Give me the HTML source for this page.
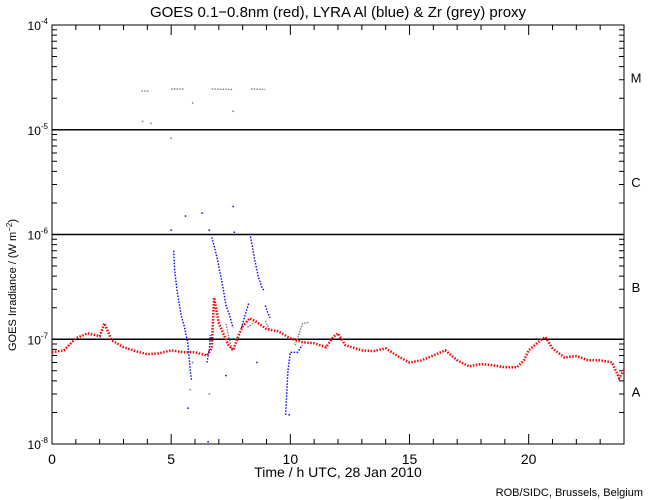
<!DOCTYPE html>
<html><head><meta charset="utf-8"><style>
body{margin:0;background:#fff}
svg{display:block;font-family:"Liberation Sans",sans-serif}
</style></head><body>
<svg id="chart" width="650" height="500" viewBox="0 0 650 500" xmlns="http://www.w3.org/2000/svg">
<rect width="650" height="500" fill="#fff"/>
<text x="338" y="17" font-size="15" text-anchor="middle">GOES 0.1−0.8nm (red), LYRA Al (blue) &amp; Zr (grey) proxy</text>
<g id="axes"></g>
<g id="marks"></g>
<text x="338" y="477" font-size="14" text-anchor="middle">Time / h UTC, 28 Jan 2010</text>
<text transform="translate(16,285) rotate(-90)" font-size="11" text-anchor="middle">GOES Irradiance / (W m<tspan dy="-4" font-size="8">−2</tspan><tspan dy="4">)</tspan></text>
<text x="643" y="496" font-size="11" text-anchor="end">ROB/SIDC, Brussels, Belgium</text>
</svg>
<script>
const xTicks=[0,5,10,15,20];
const yDecades=[-8,-7,-6,-5,-4];
const classNames=['A','B','C','M'];
const classExp=[-7.5,-6.5,-5.5,-4.5];
const redT=[0,0.5,1,1.5,2,2.2,2.5,3,3.5,4,4.5,5,5.5,6,6.5,6.7,6.8,7,7.4,7.6,7.8,8,8.3,8.6,9,9.5,10,10.5,11,11.5,11.8,12,12.3,13,13.5,14,14.5,15,15.5,16,16.5,17,17.5,18,18.5,19,19.5,19.8,20,20.5,20.7,21,21.5,22,22.5,23,23.5,23.8,24];
const redV=[7.5e-8,7.85e-8,1.02e-7,1.14e-7,1.07e-7,1.42e-7,9.8e-8,8.4e-8,7.7e-8,7.2e-8,7.35e-8,7.85e-8,7.5e-8,7.5e-8,7.0e-8,8.2e-8,2.5e-7,1.42e-7,8.8e-8,7.85e-8,1.05e-7,1.33e-7,1.59e-7,1.45e-7,1.25e-7,1.19e-7,1.02e-7,9.4e-8,9.15e-8,8.4e-8,1.05e-7,1.14e-7,8.8e-8,7.85e-8,7.7e-8,8.2e-8,6.9e-8,6.0e-8,6.3e-8,7.0e-8,7.85e-8,6.3e-8,5.5e-8,5.8e-8,5.65e-8,5.4e-8,5.4e-8,6.3e-8,7.85e-8,9.8e-8,1.05e-7,8.2e-8,6.7e-8,6.9e-8,6.3e-8,6.3e-8,6.0e-8,4.25e-8,5.1e-8];
const blueT=[5.1,5.15,5.25,5.35,5.42,5.48,5.55,5.7,5.8,5.85,NaN,6.5,6.6,6.65,NaN,6.7,6.8,6.95,7.1,7.2,7.3,7.45,7.6,NaN,7.95,8.1,8.25,NaN,8.3,8.4,8.5,8.65,8.8,8.9,NaN,8.95,9.05,9.15,NaN,9.8,9.9,10,10.3,10.5];
const blueV=[7.0e-7,4.5e-7,2.9e-7,2.1e-7,1.69e-7,1.51e-7,1.33e-7,9.0e-8,5.1e-8,4.1e-8,NaN,6.0e-8,8e-8,1.1e-7,NaN,9.4e-7,7.85e-7,5.65e-7,3.8e-7,2.9e-7,2.1e-7,1.69e-7,1.28e-7,NaN,1.28e-7,1.69e-7,2.2e-7,NaN,1.02e-6,7.85e-7,5.8e-7,4.0e-7,3.16e-7,2.9e-7,NaN,2.1e-7,1.8e-7,1.6e-7,NaN,1.9e-8,5.1e-8,7.5e-8,7.5e-8,8.8e-8];
const greyT=[3.75,4.1,NaN,5.0,5.55,NaN,6.7,7.6,NaN,8.35,8.95,NaN,7.3,7.42,7.55,NaN,8.2,8.5,NaN,8.95,9.15,NaN,10.2,10.5,10.75];
const greyV=[2.34e-5,2.34e-5,NaN,2.45e-5,2.45e-5,NaN,2.45e-5,2.42e-5,NaN,2.45e-5,2.43e-5,NaN,1.4e-7,1.05e-7,8e-8,NaN,1.3e-7,1.45e-7,NaN,1.5e-7,1.2e-7,NaN,8.8e-8,1.4e-7,1.45e-7];
const blueDotT=[5.0,5.6,6.3,6.6,7.6,7.65,5.7,6.55,9.95,7.3,8.6];
const blueDotV=[1.1e-6,1.5e-6,1.6e-6,1.1e-6,1.85e-6,1.05e-6,2.2e-8,1.05e-8,1.9e-8,4.5e-8,6e-8];
const greyDotT=[3.8,4.15,5.0,5.9,7.6,5.8,6.6,8.0,5.9];
const greyDotV=[1.2e-5,1.15e-5,8.3e-6,1.8e-5,1.5e-5,3.3e-8,3.0e-8,1.0e-8,6.0e-8];

const NS='http://www.w3.org/2000/svg';
const X0=52,X1=624,Y0=25,Y1=444;
const xs=t=>X0+(t/24)*(X1-X0);
const ys=v=>Y1-(Math.log10(v)+8)/4*(Y1-Y0);
const ax=document.getElementById('axes'),mk=document.getElementById('marks');
function mkEl(tag,attrs,parent){const e=document.createElementNS(NS,tag);for(const k in attrs)e.setAttribute(k,attrs[k]);parent.appendChild(e);return e;}
let frame=mkEl('rect',{x:X0,y:Y0,width:X1-X0,height:Y1-Y0,fill:'none',stroke:'#000','stroke-width':1},ax);


for(let h=0;h<=24;h++){
  const L=(h%5===0)?10:5;
  const tk=mkEl('path',{d:`M${xs(h)},${Y1}v${-L}M${xs(h)},${Y0}v${L}`,stroke:'#000'},ax);
  
  
}
xTicks.forEach(t=>{
  const tx=mkEl('text',{x:xs(t),y:Y1+20,'font-size':14,'text-anchor':'middle'},ax);
  tx.textContent=t;
  
  
});
yDecades.forEach((d,i)=>{
  const y=ys(Math.pow(10,d));
  const tx=mkEl('text',{x:X0-4,y:y+5,'font-size':12,'text-anchor':'end'},ax);
  tx.innerHTML='10<tspan dy="-6" font-size="8">'+d+'</tspan>';
  
  
  if(d>-8&&d<-4){
    const gl=mkEl('line',{x1:X0,x2:X1,y1:y,y2:y,stroke:'#000','stroke-width':1.5},ax);
    
    
  }
  if(d<-4){for(let m=1;m<10;m++){
    const yy=ys(m*Math.pow(10,d));const L=m===1?10:5;
    const tk=mkEl('path',{d:`M${X0},${yy}h${L}M${X1},${yy}h${-L}`,stroke:'#000'},ax);
    
    
  }}
});
classNames.forEach((c,i)=>{
  const tx=mkEl('text',{x:636,y:ys(Math.pow(10,classExp[i]))+5,'font-size':13,'text-anchor':'middle'},ax);
  tx.textContent=c;
  
  
});
function series(T,V,color,w,dash,name){
  let d='',pen=false;
  for(let i=0;i<T.length;i++){
    if(isNaN(T[i])){pen=false;continue;}
    d+=(pen?'L':'M')+xs(T[i]).toFixed(1)+','+ys(V[i]).toFixed(1);pen=true;
  }
  const p=mkEl('path',{d:d,fill:'none',stroke:color,'stroke-width':w,'stroke-dasharray':dash},mk);
  
  
}
function dots(T,V,color,name){
  T.forEach((t,i)=>{
    const r=mkEl('rect',{x:xs(t)-0.75,y:ys(V[i])-0.75,width:1.5,height:1.5,fill:color},mk);
    
    
  });
}
series(greyT,greyV,'#808080',1.4,'1.5 1.2','lyra-zr-series');
series(blueT,blueV,'#0000ff',1.4,'1.5 1.5','lyra-al-series');
series(redT,redV,'#ff0000',2.5,'1.5 1.5','goes-series');
dots(blueDotT,blueDotV,'#0000ff','lyra-al-point');
dots(greyDotT,greyDotV,'#808080','lyra-zr-point');
</script>
</body></html>
